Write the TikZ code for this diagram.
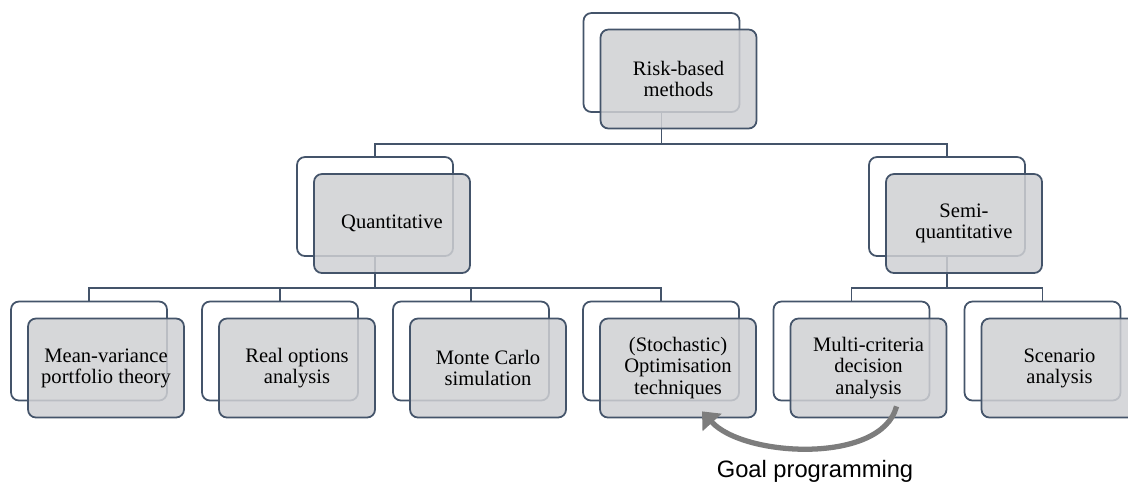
\documentclass[tikz,border=0pt]{standalone}
\usepackage{fontspec}
\setmainfont{Liberation Serif}
\newfontfamily\boxfont{Liberation Serif}
\newfontfamily\goalfont{Liberation Sans}
\usepackage{tikz}
\usetikzlibrary{shapes, arrows.meta}
\definecolor{edge}{RGB}{68,84,106}
\definecolor{boxfill}{RGB}{207,208,211}
\definecolor{goalgray}{RGB}{125,125,125}
\tikzstyle{frame} = [rectangle, rounded corners=4.5pt, minimum width=3.12cm, minimum height=1.98cm, draw=edge, line width=1pt, fill=white]
\tikzstyle{block} = [rectangle, rounded corners=4.5pt, minimum width=3.12cm, minimum height=1.98cm, draw=edge, line width=1pt, fill=boxfill, fill opacity=0.85, text opacity=1, align=center, inner sep=0pt, font=\boxfont\fontsize{11.7}{12}\selectfont]
\tikzstyle{link} = [draw=edge, line width=0.8pt]
\tikzstyle{arrow} = [line width=3pt, draw=goalgray, -{Triangle[length=0.3cm, width=0.5cm]}]

\begin{document}
\begin{tikzpicture}[x=0.02cm, y=-0.02cm]
	\useasboundingbox (0,0) rectangle (1128,481);
	% frames
	\node [frame] (riskb) at (661.5,62.5) {};
	\node [frame] (quantb) at (375,206.5) {};
	\node [frame] (semib) at (947,206.5) {};
	\node [frame] (mvb) at (89,351) {};
	\node [frame] (rob) at (280,351) {};
	\node [frame] (mcb) at (471,351) {};
	\node [frame] (stochb) at (661,351) {};
	\node [frame] (mcdab) at (851.5,351) {};
	\node [frame] (scenb) at (1042.5,351) {};
	
	% lines
	\draw [link] (riskb.south) -- ++(0,31) -| (quantb.north);
	\draw [link] (riskb.south) -- ++(0,31) -| (semib.north);
	\draw [link] (quantb.south) -- ++(0,31) -| (mvb.north);
	\draw [link] (quantb.south) -- ++(0,31) -| (rob.north);
	\draw [link] (quantb.south) -- ++(0,31) -| (mcb.north);
	\draw [link] (quantb.south) -- ++(0,31) -| (stochb.north);
	\draw [link] (semib.south) -- ++(0,31) -| (mcdab.north);
	\draw [link] (semib.south) -- ++(0,31) -| (scenb.north);
	
	% blocks
	\node [block] (risk) at (678.5,79) {Risk-based\\methods};
	\node [block] (quant) at (392,223.5) {Quantitative};
	\node [block] (semi) at (964,223.5) {Semi-\\quantitative};
	\node [block] (mv) at (106,368) {Mean-variance\\portfolio theory};
	\node [block] (ro) at (297,368) {Real options\\analysis};
	\node [block] (mc) at (488,368) {Monte Carlo\\simulation};
	\node [block] (stoch) at (678,368) {(Stochastic)\\Optimisation\\techniques};
	\node [block] (mcda) at (868.5,368) {Multi-criteria\\decision\\analysis};
	\node [block] (scen) at (1059.5,368) {Scenario\\analysis};
	
	% arrow
	\draw [arrow] ([shift={(28,-12)}]mcda.south) .. controls +(-15,58) and +(42,46) .. ([shift={(24,-7)}]stoch.south);
	\node [anchor=base, font=\goalfont\fontsize{13.5}{16}\selectfont] (goal) at (815,477) {Goal programming};
\end{tikzpicture}
\end{document}
